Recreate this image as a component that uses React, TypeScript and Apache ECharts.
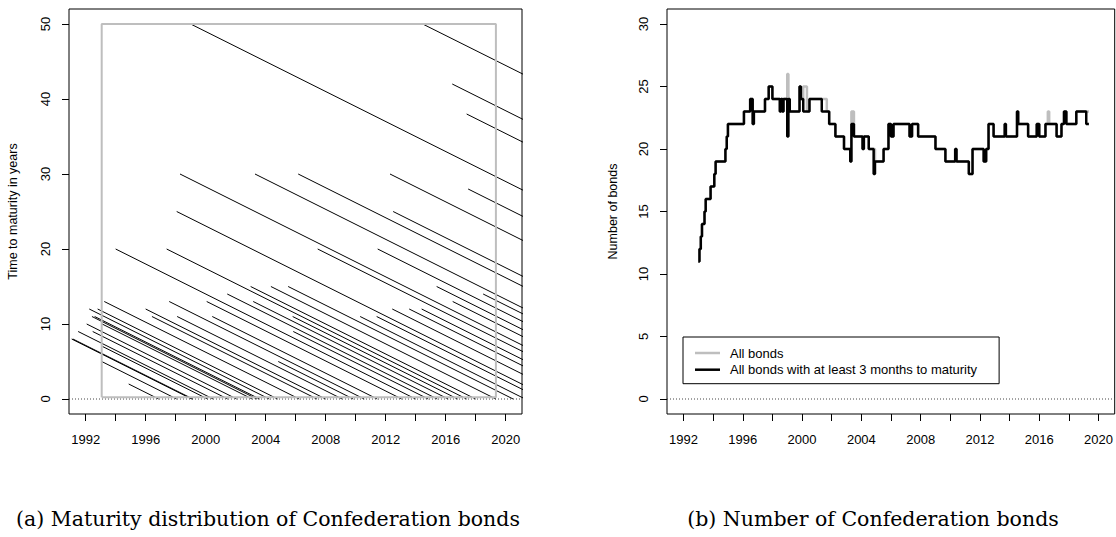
import React, { useEffect, useRef } from "react";
import * as echarts from "echarts";

// ---------- axes ----------
const X_MIN = 1990.89;
const X_MAX = 2021.09;
const X_TICKS = [1992, 1994, 1996, 1998, 2000, 2002, 2004, 2006, 2008, 2010, 2012, 2014, 2016, 2018, 2020];
const X_LABELS = [1992, 1996, 2000, 2004, 2008, 2012, 2016, 2020];
const LEFT_Y_MIN = -2;
const LEFT_Y_MAX = 52;
const LEFT_Y_TICKS = [0, 10, 20, 30, 40, 50];
const RIGHT_Y_MIN = -1.2;
const RIGHT_Y_MAX = 31.2;
const RIGHT_Y_TICKS = [0, 5, 10, 15, 20, 25, 30];

// ---------- panel (a): bonds as [issue date (decimal year), years to maturity at issue] ----------
const BONDS: [number, number][] = [
  [1991.07, 8], [1991.15, 8], [1991.5, 9], [1992.07, 10], [1992.24, 12], [1992.42, 11],
  [1992.6, 11], [1992.47, 9], [1992.8, 12], [1993.24, 13], [1993.13, 7], [1993.07, 5],
  [1993.1, 10], [1994.87, 2], [1994.0, 20], [1996.0, 12], [1996.42, 11], [1997.4, 20],
  [1997.57, 13], [1998.07, 25], [1998.1, 11], [1998.29, 30], [1999.0, 50], [2000.07, 13],
  [2000.44, 11], [2001.44, 14], [2003.0, 15], [2003.17, 13], [2003.29, 30], [2004.35, 15],
  [2004.84, 5], [2005.5, 15], [2005.8, 11], [2005.84, 9], [2006.17, 30], [2007.47, 20],
  [2010.3, 11], [2011.4, 11], [2011.47, 20], [2012.29, 30], [2012.44, 12], [2012.5, 25],
  [2013.57, 12], [2014.4, 12], [2014.47, 50], [2015.4, 15], [2016.44, 42], [2016.47, 13],
  [2017.4, 38], [2017.5, 28], [2018.5, 14],
];
// sample window (grey frame): from / to (years), lower / upper maturity bound
const WINDOW_FROM = 1993.07;
const WINDOW_TO = 2019.35;
const WINDOW_LOW = 0.25;
const WINDOW_HIGH = 50;

// ---------- panel (b): number of bonds, change points [date, count] ----------
const COUNT_END = 2019.35;
const COUNT_ALL: [number, number][] = [
  [1993.0, 11], [1993.08, 12], [1993.17, 13], [1993.25, 14], [1993.42, 15], [1993.5, 16],
  [1993.83, 17], [1994.08, 18], [1994.17, 19], [1994.83, 20], [1994.92, 21], [1995.0, 22],
  [1996.08, 23], [1996.5, 24], [1996.67, 22], [1996.75, 23], [1997.5, 24], [1997.75, 25],
  [1998.0, 24], [1998.5, 23], [1998.58, 24], [1998.67, 23], [1998.75, 24], [1999.0, 26],
  [1999.08, 24], [1999.17, 23], [1999.83, 25], [1999.92, 24], [2000.08, 25], [2000.33, 23],
  [2000.5, 24], [2001.67, 23], [2001.83, 22], [2002.25, 21], [2002.83, 20], [2003.25, 19],
  [2003.33, 23], [2003.5, 21], [2004.08, 20], [2004.17, 21], [2004.5, 20], [2004.92, 19],
  [2005.5, 20], [2005.83, 22], [2006.0, 21], [2006.17, 22], [2007.25, 21], [2007.42, 22],
  [2007.83, 21], [2009.0, 20], [2009.67, 19], [2010.33, 20], [2010.42, 19], [2011.25, 18],
  [2011.5, 20], [2012.25, 19], [2012.42, 20], [2012.58, 22], [2012.92, 21], [2013.67, 22],
  [2013.75, 21], [2014.5, 23], [2014.58, 22], [2015.25, 21], [2015.83, 22], [2016.0, 21],
  [2016.42, 22], [2016.58, 23], [2016.67, 22], [2017.17, 21], [2017.5, 22], [2017.67, 23],
  [2017.83, 22], [2018.5, 23],
];
const COUNT_3M: [number, number][] = [
  [1993.0, 11], [1993.08, 12], [1993.17, 13], [1993.25, 14], [1993.42, 15], [1993.5, 16],
  [1993.83, 17], [1994.08, 18], [1994.17, 19], [1994.83, 20], [1994.92, 21], [1995.0, 22],
  [1996.08, 23], [1996.5, 24], [1996.67, 22], [1996.75, 23], [1997.5, 24], [1997.75, 25],
  [1998.0, 24], [1998.5, 23], [1998.58, 24], [1998.67, 23], [1998.75, 24], [1999.0, 21],
  [1999.08, 24], [1999.17, 23], [1999.83, 25], [1999.92, 24], [2000.08, 23], [2000.5, 24],
  [2001.33, 23], [2001.83, 22], [2002.25, 21], [2002.83, 20], [2003.25, 19], [2003.33, 22],
  [2003.5, 21], [2004.08, 20], [2004.17, 21], [2004.5, 20], [2004.83, 18], [2004.92, 19],
  [2005.5, 20], [2005.83, 22], [2006.0, 21], [2006.17, 22], [2007.25, 21], [2007.42, 22],
  [2007.83, 21], [2009.0, 20], [2009.67, 19], [2010.33, 20], [2010.42, 19], [2011.25, 18],
  [2011.5, 20], [2012.25, 19], [2012.42, 20], [2012.58, 22], [2012.92, 21], [2013.67, 22],
  [2013.75, 21], [2014.5, 23], [2014.58, 22], [2015.25, 21], [2015.83, 22], [2016.0, 21],
  [2016.42, 22], [2017.17, 21], [2017.5, 22], [2017.67, 23], [2017.83, 22], [2018.5, 23],
  [2019.17, 22],
];

const SERIES_ALL = "All bonds";
const SERIES_3M = "All bonds with at least 3 months to maturity";
const CAPTION_A = "(a) Maturity distribution of Confederation bonds";
const CAPTION_B = "(b) Number of Confederation bonds";
const TITLE_A = "Time to maturity in years";
const TITLE_B = "Number of bonds";

const SANS = "'Liberation Sans', Arial, Helvetica, sans-serif";
const SERIF = "'DejaVu Serif', serif";
const GREY = "#bebebe";

function withEnd(points: [number, number][], end: number): [number, number][] {
  return [...points, [end, points[points.length - 1][1]]];
}

function xAxisFor(i: number) {
  return {
    type: "value",
    gridIndex: i,
    min: X_MIN,
    max: X_MAX,
    axisLine: { show: false, onZero: false },
    axisTick: { show: true, length: 7, customValues: X_TICKS, lineStyle: { color: "#000", width: 1 } },
    axisLabel: {
      customValues: X_LABELS,
      margin: 19,
      color: "#000",
      fontSize: 13,
      fontFamily: SANS,
      formatter: (v: number) => String(Math.round(v)),
    },
    splitLine: { show: false },
  };
}

function yAxisFor(i: number, min: number, max: number, ticks: number[], name: string, gap: number) {
  return {
    type: "value",
    gridIndex: i,
    min,
    max,
    name,
    nameLocation: "middle",
    nameGap: gap,
    nameRotate: 90,
    nameTextStyle: { color: "#000", fontSize: 12.5, fontFamily: SANS },
    axisLine: { show: false, onZero: false },
    axisTick: { show: true, length: 7, customValues: ticks, lineStyle: { color: "#000", width: 1 } },
    axisLabel: {
      customValues: ticks,
      rotate: 90,
      margin: 17,
      color: "#000",
      fontSize: 13,
      fontFamily: SANS,
      formatter: (v: number) => String(Math.round(v)),
    },
    splitLine: { show: false },
  };
}

export default function App() {
  const ref = useRef<HTMLDivElement>(null);

  useEffect(() => {
    if (!ref.current) return;
    const chart = echarts.init(ref.current, undefined, { renderer: "svg" });

    const bondSeries = BONDS.map(([issue, tenor]) => ({
      type: "line",
      xAxisIndex: 0,
      yAxisIndex: 0,
      data: [
        [issue, tenor],
        [issue + tenor, 0],
      ],
      symbol: "none",
      silent: true,
      clip: true,
      lineStyle: { color: "#000", width: 1 },
      z: 2,
    }));

    const option: any = {
      animation: false,
      backgroundColor: "#ffffff",
      grid: [
        { left: 69, top: 9, width: 453, height: 405, show: true, borderColor: "#000", borderWidth: 1, backgroundColor: "transparent" },
        { left: 667, top: 9, width: 453, height: 405, show: true, borderColor: "#000", borderWidth: 1, backgroundColor: "transparent" },
      ],
      xAxis: [xAxisFor(0), xAxisFor(1)],
      yAxis: [
        yAxisFor(0, LEFT_Y_MIN, LEFT_Y_MAX, LEFT_Y_TICKS, TITLE_A, 50),
        yAxisFor(1, RIGHT_Y_MIN, RIGHT_Y_MAX, RIGHT_Y_TICKS, TITLE_B, 48),
      ],
      legend: {
        data: [
          { name: SERIES_ALL, icon: "rect" },
          { name: SERIES_3M, icon: "rect" },
        ],
        left: 683,
        top: 337,
        orient: "vertical",
        borderColor: "#000",
        borderWidth: 1,
        borderRadius: 0,
        padding: [9, 22, 7, 12],
        itemWidth: 25,
        itemHeight: 2.5,
        itemGap: 2.7,
        selectedMode: false,
        textStyle: { color: "#000", fontSize: 13, lineHeight: 14, fontFamily: SANS, padding: [0, 0, 0, 5] },
      },
      graphic: [
        {
          type: "text",
          x: 268,
          y: 519,
          silent: true,
          style: { text: CAPTION_A, fontSize: 20.5, fontFamily: SERIF, fill: "#000", align: "center", verticalAlign: "middle" },
        },
        {
          type: "text",
          x: 873,
          y: 519,
          silent: true,
          style: { text: CAPTION_B, fontSize: 20.5, fontFamily: SERIF, fill: "#000", align: "center", verticalAlign: "middle" },
        },
      ],
      series: [
        {
          type: "line",
          xAxisIndex: 0,
          yAxisIndex: 0,
          data: [
            [X_MIN, 0],
            [X_MAX, 0],
          ],
          symbol: "none",
          silent: true,
          lineStyle: { color: "#444", width: 1, type: [1, 2] },
          z: 1,
        },
        ...bondSeries,
        {
          type: "line",
          xAxisIndex: 0,
          yAxisIndex: 0,
          data: [
            [WINDOW_FROM, WINDOW_LOW],
            [WINDOW_FROM, WINDOW_HIGH],
            [WINDOW_TO, WINDOW_HIGH],
            [WINDOW_TO, WINDOW_LOW],
            [WINDOW_FROM, WINDOW_LOW],
          ],
          symbol: "none",
          silent: true,
          lineStyle: { color: GREY, width: 2 },
          z: 3,
        },
        {
          type: "line",
          xAxisIndex: 1,
          yAxisIndex: 1,
          data: [
            [X_MIN, 0],
            [X_MAX, 0],
          ],
          symbol: "none",
          silent: true,
          lineStyle: { color: "#444", width: 1, type: [1, 2] },
          z: 1,
        },
        {
          name: SERIES_ALL,
          type: "line",
          xAxisIndex: 1,
          yAxisIndex: 1,
          step: "end",
          data: withEnd(COUNT_ALL, COUNT_END),
          symbol: "none",
          silent: true,
          lineStyle: { color: GREY, width: 2.5 },
          itemStyle: { color: GREY },
          z: 2,
        },
        {
          name: SERIES_3M,
          type: "line",
          xAxisIndex: 1,
          yAxisIndex: 1,
          step: "end",
          data: withEnd(COUNT_3M, COUNT_END),
          symbol: "none",
          silent: true,
          lineStyle: { color: "#000", width: 2.5 },
          itemStyle: { color: "#000" },
          z: 3,
        },
      ],
    };

    chart.setOption(option);
    return () => chart.dispose();
  }, []);

  return (
    <div
      ref={ref}
      style={{ position: "absolute", left: 0, top: 0, width: 1116, height: 537, background: "#fff" }}
    />
  );
}
